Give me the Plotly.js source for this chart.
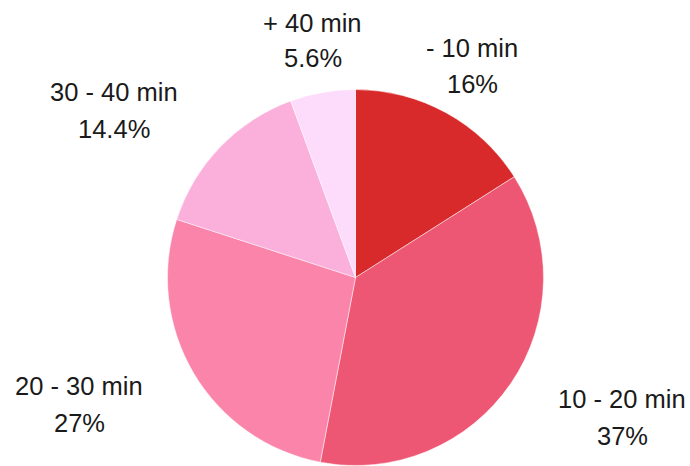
<!DOCTYPE html>
<html>
<head>
<meta charset="utf-8">
<script src="https://cdn.plot.ly/plotly-3.0.1.min.js"></script>
<style>
  html, body { margin: 0; padding: 0; background: #ffffff; }
  #chart { width: 690px; height: 466px; }
</style>
</head>
<body>
<div id="chart"></div>
<script>
// Commute time shares, clockwise from 12 o'clock
const categories = ['- 10 min', '10 - 20 min', '20 - 30 min', '30 - 40 min', '+ 40 min'];
const shares = [16, 37, 27, 14.4, 5.6];
const sliceColors = ['#d92a2b', '#ee5773', '#fb84aa', '#fbafdb', '#fddcfb'];

// Label anchor points (pixel centres of the two text lines)
const labelPos = [
  { x: 472, y1: 48, y2: 84 },
  { x: 622, y1: 399, y2: 436 },
  { x: 79, y1: 386, y2: 423 },
  { x: 114, y1: 92.5, y2: 129 },
  { x: 312.5, y1: 23, y2: 58 }
];

const W = 690, H = 466;
const labelFont = { family: 'Liberation Sans, Arial, sans-serif', size: 25.5, color: '#1a1a1a' };

const annotations = [];
categories.forEach((name, i) => {
  const p = labelPos[i];
  annotations.push({
    text: name, x: p.x / W, y: 1 - p.y1 / H, xref: 'paper', yref: 'paper',
    xanchor: 'center', yanchor: 'middle', showarrow: false, font: labelFont
  });
  annotations.push({
    text: shares[i] + '%', x: p.x / W, y: 1 - p.y2 / H, xref: 'paper', yref: 'paper',
    xanchor: 'center', yanchor: 'middle', showarrow: false, font: labelFont
  });
});

const trace = {
  type: 'pie',
  labels: categories,
  values: shares,
  sort: false,
  direction: 'clockwise',
  rotation: 0,
  textinfo: 'none',
  hoverinfo: 'label+percent',
  marker: { colors: sliceColors, line: { color: 'rgba(255,255,255,0.6)', width: 0.8 } },
  domain: { x: [167.5 / W, 543.5 / W], y: [0.5 / H, 1 - 89.5 / H] },
  showlegend: false
};

const layout = {
  width: W,
  height: H,
  margin: { l: 0, r: 0, t: 0, b: 0 },
  paper_bgcolor: '#ffffff',
  plot_bgcolor: '#ffffff',
  showlegend: false,
  annotations: annotations
};

Plotly.newPlot('chart', [trace], layout, { displayModeBar: false, staticPlot: true });
</script>
</body>
</html>
